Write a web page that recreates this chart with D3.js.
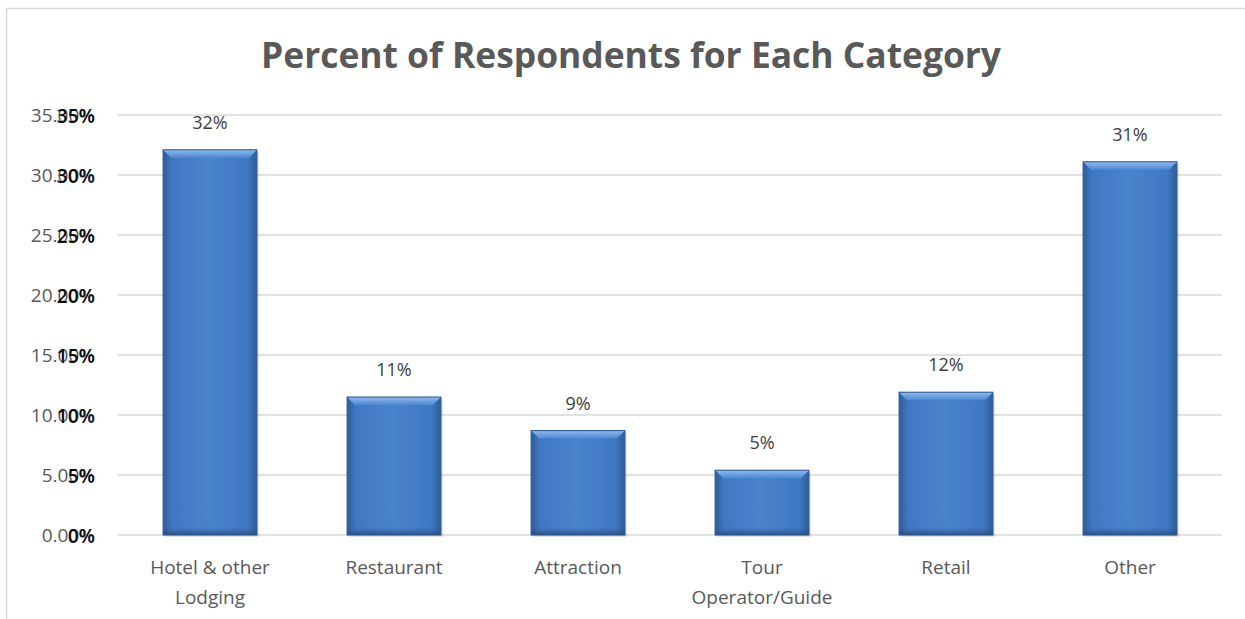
<!DOCTYPE html>
<html>
<head>
<meta charset="utf-8">
<script src="https://cdn.jsdelivr.net/npm/d3@7"></script>
<style>
  body { margin: 0; background: #fff; }
</style>
</head>
<body>
<div id="chart"></div>
<script>
const categories = ["Hotel & other|Lodging", "Restaurant", "Attraction", "Tour|Operator/Guide", "Retail", "Other"]
const percents = [32.1, 11.5, 8.7, 5.4, 11.9, 31.1]
const valueLabels = ["32%", "11%", "9%", "5%", "12%", "31%"]
const ticks = [0, 5, 10, 15, 20, 25, 30, 35]
const tickLabelsA = ["0.00%", "5.00%", "10.00%", "15.00%", "20.00%", "25.00%", "30.00%", "35.00%"]
const tickLabelsB = ["0%", "5%", "10%", "15%", "20%", "25%", "30%", "35%"]

const width = 1245, height = 619
const svg = d3.select("#chart").append("svg")
    .attr("width", width)
    .attr("height", height)

const defs = svg.append("defs")
let grad = defs.append("linearGradient").attr("id", "barGrad")
    .attr("x1", "0").attr("x2", "1").attr("y1", "0").attr("y2", "0")
grad.append("stop").attr("offset", "0%").attr("stop-color", "#2e5d99")
grad.append("stop").attr("offset", "10%").attr("stop-color", "#3f78c2")
grad.append("stop").attr("offset", "50%").attr("stop-color", "#4a84cc")
grad.append("stop").attr("offset", "90%").attr("stop-color", "#3f78c2")
grad.append("stop").attr("offset", "100%").attr("stop-color", "#2e5d99")
let vgrad = defs.append("linearGradient").attr("id", "bottomGrad")
    .attr("x1", "0").attr("x2", "0").attr("y1", "0").attr("y2", "1")
vgrad.append("stop").attr("offset", "0%").attr("stop-color", "#2e5d99").attr("stop-opacity", 0)
vgrad.append("stop").attr("offset", "100%").attr("stop-color", "#24487a").attr("stop-opacity", 0.8)
let topGrad = defs.append("linearGradient").attr("id", "topGrad")
    .attr("x1", "0").attr("x2", "0").attr("y1", "0").attr("y2", "1")
topGrad.append("stop").attr("offset", "0%").attr("stop-color", "#8fbaf0")
topGrad.append("stop").attr("offset", "100%").attr("stop-color", "#4c88d2")

// chart frame
svg.append("path")
    .attr("d", "M6.5,619 L6.5,8.5 L1245,8.5")
    .attr("fill", "none")
    .attr("stroke", "#d9d9d9")
    .attr("stroke-width", 1.5)

const x = d3.scaleBand().domain(categories).range([118, 1222]).paddingInner(0.49).paddingOuter(0.245)
const y = d3.scaleLinear().domain([0, 35]).range([535, 115])

// gridlines
svg.append("g").selectAll("line").data(ticks).enter().append("line")
    .attr("x1", 118).attr("x2", 1222)
    .attr("y1", d => y(d)).attr("y2", d => y(d))
    .attr("stroke", "#d9d9d9").attr("stroke-width", 1.3)

// overlaid tick labels (two formats drawn on top of each other)
svg.append("g").selectAll("text").data(ticks).enter().append("text")
    .attr("x", 95).attr("y", d => y(d) + 7)
    .attr("text-anchor", "end")
    .style("font-family", "Open Sans")
    .style("font-size", "19px")
    .style("fill", "#595959")
    .text((d, i) => tickLabelsA[i])
svg.append("g").selectAll("text").data(ticks).enter().append("text")
    .attr("x", 95).attr("y", d => y(d) + 8)
    .attr("text-anchor", "end")
    .style("font-family", "Open Sans")
    .style("font-size", "19px")
    .style("font-weight", "600")
    .style("fill", "#111")
    .text((d, i) => tickLabelsB[i])

// bars
let bars = svg.append("g").selectAll("g").data(percents).enter().append("g")
bars.append("rect")
    .attr("x", (d, i) => x(categories[i]) + 2)
    .attr("y", d => y(d) + 2)
    .attr("width", x.bandwidth())
    .attr("height", d => y(0) - y(d))
    .attr("fill", "#000").attr("opacity", 0.12)
bars.append("rect")
    .attr("x", (d, i) => x(categories[i]))
    .attr("y", d => y(d))
    .attr("width", x.bandwidth())
    .attr("height", d => y(0) - y(d))
    .attr("fill", "url(#barGrad)")
bars.append("rect")
    .attr("x", (d, i) => x(categories[i]))
    .attr("y", d => y(0) - 8)
    .attr("width", x.bandwidth())
    .attr("height", 8)
    .attr("fill", "url(#bottomGrad)")
bars.append("path")
    .attr("d", (d, i) => {
        let x0 = x(categories[i]), x1 = x0 + x.bandwidth(), t = y(d)
        return `M${x0},${t} L${x1},${t} L${x1 - 8},${t + 8} L${x0 + 8},${t + 8} Z`
    })
    .attr("fill", "url(#topGrad)")
bars.append("rect")
    .attr("x", (d, i) => x(categories[i]))
    .attr("y", d => y(d))
    .attr("width", x.bandwidth())
    .attr("height", d => y(0) - y(d))
    .attr("fill", "none")
    .attr("stroke", "#2b558c").attr("stroke-width", 1)

// value labels
svg.append("g").selectAll("text").data(percents).enter().append("text")
    .attr("x", (d, i) => x(categories[i]) + x.bandwidth() / 2)
    .attr("y", d => y(d) - 21)
    .attr("text-anchor", "middle")
    .style("font-family", "Open Sans")
    .style("font-size", "18px")
    .style("fill", "#404040")
    .text((d, i) => valueLabels[i])

// category labels
let cat = svg.append("g").selectAll("text").data(categories).enter().append("text")
    .attr("x", d => x(d) + x.bandwidth() / 2)
    .attr("y", 574)
    .attr("text-anchor", "middle")
    .style("font-family", "Open Sans")
    .style("font-size", "19px")
    .style("fill", "#595959")
cat.selectAll("tspan").data(d => d.split("|")).enter().append("tspan")
    .attr("x", function () { return d3.select(this.parentNode).attr("x") })
    .attr("dy", (d, i) => i === 0 ? 0 : 30)
    .text(d => d)

// title
svg.append("text")
    .attr("x", 631).attr("y", 68)
    .attr("text-anchor", "middle")
    .attr("textLength", 740)
    .attr("lengthAdjust", "spacingAndGlyphs")
    .style("font-family", "Open Sans")
    .style("font-weight", "bold")
    .style("font-size", "36px")
    .style("fill", "#595959")
    .text("Percent of Respondents for Each Category")
</script>
</body>
</html>
